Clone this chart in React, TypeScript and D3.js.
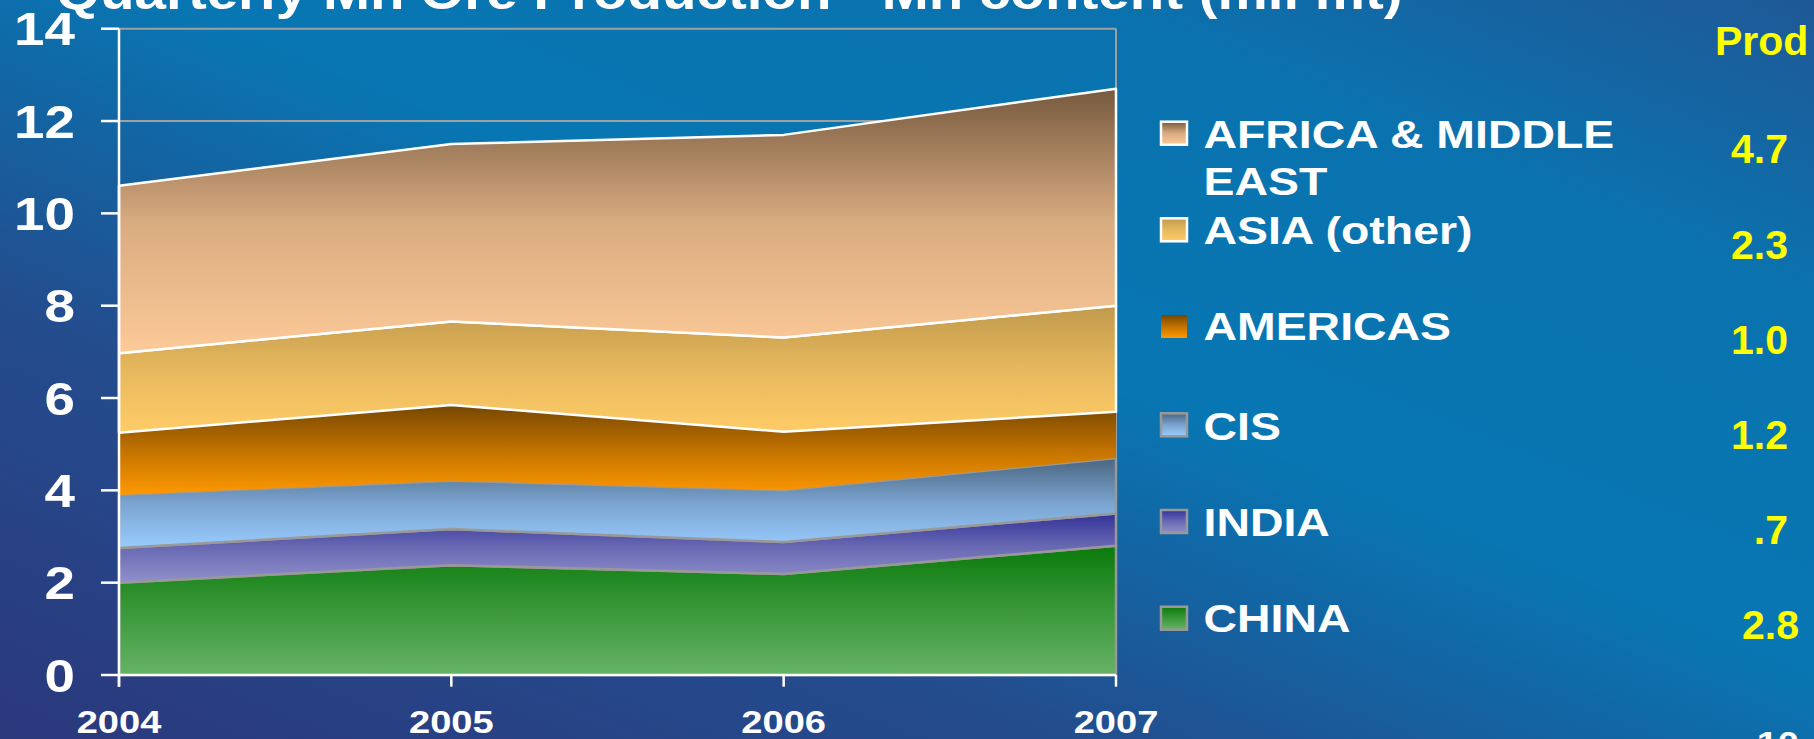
import React, { useEffect } from "react";
import * as d3 from "d3";

// ---- data ----
const years = ["2004", "2005", "2006", "2007"];
const china = [2.0, 2.38, 2.19, 2.8];
const india = [0.75, 0.78, 0.69, 0.7];
const cis = [1.15, 1.05, 1.12, 1.2];
const americas = [1.35, 1.64, 1.27, 1.0];
const asia = [1.72, 1.81, 2.04, 2.3];
const africa = [3.63, 3.84, 4.39, 4.7];

const seriesKeys = ["CHINA", "INDIA", "CIS", "AMERICAS", "ASIA", "AFRICA"];
const legendLabels = [
  ["AFRICA & MIDDLE", "EAST"],
  ["ASIA (other)"],
  ["AMERICAS"],
  ["CIS"],
  ["INDIA"],
  ["CHINA"],
];
const prodValues = ["4.7", "2.3", "1.0", "1.2", ".7", "2.8"];
const yTicks = [0, 2, 4, 6, 8, 10, 12, 14];
const title = "Quarterly Mn Ore Production - Mn content (mil mt)";

// ---- styles ----
const W = 1814;
const H = 739;
const FONT = "'Liberation Sans', Arial, sans-serif";
const SX = 1.19;

const grads: Record<string, string[]> = {
  AFRICA: ["#76593f", "#d8ab80", "#fdca98"],
  ASIA: ["#c09a4c", "#e6b75e", "#ffcc66"],
  AMERICAS: ["#754700", "#c27200", "#ff9900"],
  CIS: ["#4a6580", "#7aa3cf", "#99ccff"],
  INDIA: ["#333399", "#6a6ab4", "#9090cc"],
  CHINA: ["#0a7a0a", "#3a983a", "#66b366"],
};
const strokes: Record<string, string | null> = {
  AFRICA: "#ffffff",
  ASIA: "#ffffff",
  AMERICAS: null,
  CIS: "#999999",
  INDIA: "#999999",
  CHINA: "#999999",
};
const legendKeys = ["AFRICA", "ASIA", "AMERICAS", "CIS", "INDIA", "CHINA"];
const legendBaselines = [147.7, 244, 340, 440, 535.7, 632.3];
const legendSwatchTop = [121.7, 218.3, 315, 413.3, 510, 606.7];
const prodBaselines = [163.3, 259.3, 354.3, 449.3, 544.3, 639.3];
const prodRight = [1788, 1788, 1788, 1788, 1788, 1799];

function SText(props: any) {
  const { x, y, anchor = "start", size, fill = "#fff", sx = SX, children } = props;
  return (
    <text
      transform={`translate(${x},${y}) scale(${sx},1)`}
      textAnchor={anchor}
      fontSize={size}
      fontFamily={FONT}
      fontWeight="bold"
      fill={fill}
    >
      {children}
    </text>
  );
}

export default function App() {
  useEffect(() => {
    document.body.style.margin = "0";
    document.body.style.overflow = "hidden";
  }, []);

  const x = d3.scalePoint<string>().domain(years).range([119, 1116]);
  const y = d3.scaleLinear().domain([0, 14]).range([675, 28.7]);

  const rows = years.map((yr, i) => ({
    year: yr,
    CHINA: china[i],
    INDIA: india[i],
    CIS: cis[i],
    AMERICAS: americas[i],
    ASIA: asia[i],
    AFRICA: africa[i],
  }));
  const stacked = d3.stack<any>().keys(seriesKeys)(rows);
  const area = d3
    .area<any>()
    .x((d) => x(d.data.year) as number)
    .y0((d) => y(d[0]))
    .y1((d) => y(d[1]));

  const x0 = x(years[0]) as number;
  const x1 = x(years[years.length - 1]) as number;

  return (
    <svg width={W} height={H} style={{ position: "fixed", left: 0, top: 0, display: "block" }}>
      <defs>
        <linearGradient id="bg" x1="0" y1="1" x2="1" y2="0">
          <stop offset="0" stopColor="#2b387c" />
          <stop offset="0.3" stopColor="#234d8e" />
          <stop offset="0.55" stopColor="#0777b3" />
          <stop offset="0.8" stopColor="#0a72ae" />
          <stop offset="1" stopColor="#1f5896" />
        </linearGradient>
        {Object.keys(grads).map((k) => (
          <linearGradient key={k} id={`g-${k}`} x1="0" y1="0" x2="0" y2="1">
            <stop offset="0" stopColor={grads[k][0]} />
            <stop offset="0.5" stopColor={grads[k][1]} />
            <stop offset="1" stopColor={grads[k][2]} />
          </linearGradient>
        ))}
      </defs>
      <rect x={0} y={0} width={W} height={H} fill="url(#bg)" />

      {/* title (cropped at top) */}
      <SText x={56} y={9} size={47.5}>
        {title}
      </SText>

      {/* gridlines and plot frame */}
      {yTicks.slice(1).map((t) => (
        <line key={t} x1={x0} x2={x1} y1={y(t)} y2={y(t)} stroke="#a0a0a0" strokeWidth={2} />
      ))}
      <line x1={x1} x2={x1} y1={y(14)} y2={y(0)} stroke="#a0a0a0" strokeWidth={2} />

      {/* areas */}
      {stacked.map((s) => (
        <path
          key={s.key}
          d={area(s) as string}
          fill={`url(#g-${s.key})`}
          stroke={strokes[s.key] || "none"}
          strokeWidth={2.5}
          strokeLinejoin="round"
        />
      ))}

      {/* y axis */}
      <line x1={x0} x2={x0} y1={y(14)} y2={686.7} stroke="#fff" strokeWidth={2.5} />
      {yTicks.map((t) => (
        <g key={t}>
          <line x1={101} x2={x0} y1={y(t)} y2={y(t)} stroke="#fff" strokeWidth={2.5} />
          <SText x={75} y={y(t) + 16.6} anchor="end" size={46}>
            {String(t)}
          </SText>
        </g>
      ))}

      {/* x axis */}
      <line x1={x0} x2={x1} y1={y(0)} y2={y(0)} stroke="#fff" strokeWidth={2.5} />
      {years.map((yr) => (
        <g key={yr}>
          <line x1={x(yr)} x2={x(yr)} y1={y(0)} y2={686.7} stroke="#fff" strokeWidth={2.5} />
          <SText x={x(yr)} y={733} anchor="middle" size={32}>
            {yr}
          </SText>
        </g>
      ))}

      {/* legend */}
      {legendKeys.map((k, i) => (
        <g key={k}>
          <rect
            x={1161}
            y={legendSwatchTop[i]}
            width={26}
            height={23}
            fill={`url(#g-${k})`}
            stroke={strokes[k] || "none"}
            strokeWidth={2.5}
          />
          {legendLabels[i].map((ln, j) => (
            <SText key={j} x={1203.5} y={legendBaselines[i] + j * 47.3} size={39}>
              {ln}
            </SText>
          ))}
        </g>
      ))}

      {/* production column */}
      <SText x={1715} y={55} size={41} fill="#ffff00" sx={1}>
        Prod
      </SText>
      {prodValues.map((v, i) => (
        <SText key={i} x={prodRight[i]} y={prodBaselines[i]} anchor="end" size={41} fill="#ffff00" sx={1}>
          {v}
        </SText>
      ))}

      {/* page number, cropped */}
      <SText x={1799} y={754} anchor="end" size={32}>
        10
      </SText>
    </svg>
  );
}
